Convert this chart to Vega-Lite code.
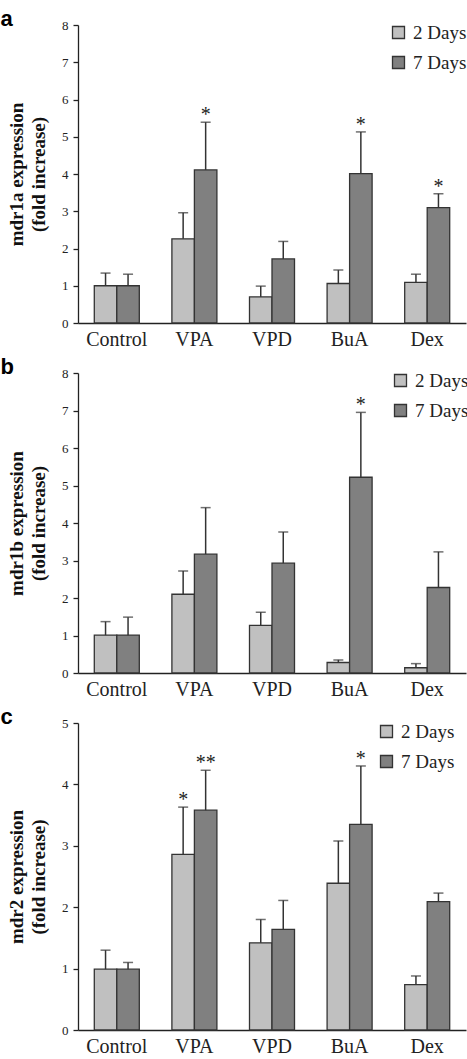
{
  "$schema": "https://vega.github.io/schema/vega-lite/v6.json",
  "padding": {"left": 0, "top": 8, "right": 0, "bottom": 0},
  "background": "white",
  "data": {"values": [
    {"panel": "a", "group": "Control", "day": "2 Days", "value": 1.0, "err": 1.34, "star": ""},
    {"panel": "a", "group": "Control", "day": "7 Days", "value": 1.0, "err": 1.31, "star": ""},
    {"panel": "a", "group": "VPA", "day": "2 Days", "value": 2.26, "err": 2.96, "star": ""},
    {"panel": "a", "group": "VPA", "day": "7 Days", "value": 4.11, "err": 5.39, "star": "*"},
    {"panel": "a", "group": "VPD", "day": "2 Days", "value": 0.70, "err": 0.99, "star": ""},
    {"panel": "a", "group": "VPD", "day": "7 Days", "value": 1.72, "err": 2.19, "star": ""},
    {"panel": "a", "group": "BuA", "day": "2 Days", "value": 1.06, "err": 1.42, "star": ""},
    {"panel": "a", "group": "BuA", "day": "7 Days", "value": 4.01, "err": 5.13, "star": "*"},
    {"panel": "a", "group": "Dex", "day": "2 Days", "value": 1.09, "err": 1.31, "star": ""},
    {"panel": "a", "group": "Dex", "day": "7 Days", "value": 3.10, "err": 3.47, "star": "*"},
    {"panel": "b", "group": "Control", "day": "2 Days", "value": 1.01, "err": 1.37, "star": ""},
    {"panel": "b", "group": "Control", "day": "7 Days", "value": 1.01, "err": 1.49, "star": ""},
    {"panel": "b", "group": "VPA", "day": "2 Days", "value": 2.10, "err": 2.72, "star": ""},
    {"panel": "b", "group": "VPA", "day": "7 Days", "value": 3.17, "err": 4.41, "star": ""},
    {"panel": "b", "group": "VPD", "day": "2 Days", "value": 1.27, "err": 1.62, "star": ""},
    {"panel": "b", "group": "VPD", "day": "7 Days", "value": 2.93, "err": 3.76, "star": ""},
    {"panel": "b", "group": "BuA", "day": "2 Days", "value": 0.28, "err": 0.35, "star": ""},
    {"panel": "b", "group": "BuA", "day": "7 Days", "value": 5.22, "err": 6.95, "star": "*"},
    {"panel": "b", "group": "Dex", "day": "2 Days", "value": 0.14, "err": 0.25, "star": ""},
    {"panel": "b", "group": "Dex", "day": "7 Days", "value": 2.28, "err": 3.23, "star": ""},
    {"panel": "c", "group": "Control", "day": "2 Days", "value": 0.99, "err": 1.30, "star": ""},
    {"panel": "c", "group": "Control", "day": "7 Days", "value": 0.99, "err": 1.10, "star": ""},
    {"panel": "c", "group": "VPA", "day": "2 Days", "value": 2.86, "err": 3.63, "star": "*"},
    {"panel": "c", "group": "VPA", "day": "7 Days", "value": 3.58, "err": 4.23, "star": "**"},
    {"panel": "c", "group": "VPD", "day": "2 Days", "value": 1.42, "err": 1.80, "star": ""},
    {"panel": "c", "group": "VPD", "day": "7 Days", "value": 1.64, "err": 2.11, "star": ""},
    {"panel": "c", "group": "BuA", "day": "2 Days", "value": 2.39, "err": 3.08, "star": ""},
    {"panel": "c", "group": "BuA", "day": "7 Days", "value": 3.35, "err": 4.30, "star": "*"},
    {"panel": "c", "group": "Dex", "day": "2 Days", "value": 0.74, "err": 0.88, "star": ""},
    {"panel": "c", "group": "Dex", "day": "7 Days", "value": 2.09, "err": 2.23, "star": ""}
  ]},
  "config": {
    "view": {"stroke": null},
    "font": "Liberation Serif",
    "concat": {"spacing": 50},
    "axis": {
      "domainColor": "#222",
      "domainWidth": 1.3,
      "tickColor": "#222",
      "tickWidth": 1.3,
      "grid": false,
      "labelFont": "Liberation Serif",
      "labelColor": "#222",
      "titleFont": "Liberation Serif",
      "titleColor": "#111"
    },
    "axisX": {"ticks": false, "labelFontSize": 20, "labelPadding": 6, "labelAngle": 0, "title": null},
    "axisY": {"tickSize": 5, "labelFontSize": 13, "labelPadding": 5, "titleFontSize": 19, "titleFontWeight": "bold", "titleLineHeight": 22, "titlePadding": 13, "format": "d"},
    "legend": {
      "orient": "none",
      "title": null,
      "symbolType": "square",
      "symbolSize": 144,
      "symbolStrokeColor": "#333",
      "symbolStrokeWidth": 1.3,
      "symbolOpacity": 1,
      "labelFont": "Liberation Serif",
      "labelFontSize": 19,
      "labelColor": "#222",
      "rowPadding": 10,
      "labelOffset": 5
    },
    "title": {"font": "Liberation Sans", "fontSize": 22, "fontWeight": "bold", "anchor": "start", "frame": "bounds", "color": "#000"}
  },
  "resolve": {"scale": {"y": "independent", "x": "independent"}, "legend": {"color": "independent"}},
  "bounds": "flush",
  "vconcat": [
    {
      "title": {"text": "a", "dx": -7, "dy": 2, "offset": -10},
      "width": 388,
      "height": 298,
      "transform": [{"filter": "datum.panel === 'a'"}],
      "encoding": {
        "x": {"field": "group", "type": "nominal", "sort": ["Control", "VPA", "VPD", "BuA", "Dex"], "scale": {"paddingInner": 0.42, "paddingOuter": 0.21}},
        "xOffset": {"field": "day", "type": "nominal", "sort": ["2 Days", "7 Days"]}
      },
      "layer": [
        {"mark": {"type": "bar", "stroke": "#333", "strokeWidth": 1.3}, "encoding": {
          "y": {"field": "value", "type": "quantitative", "scale": {"domain": [0, 8]}, "axis": {"values": [0,1,2,3,4,5,6,7,8], "title": ["mdr1a expression", "(fold increase)"]}},
          "color": {"field": "day", "type": "nominal", "scale": {"domain": ["2 Days", "7 Days"], "range": ["#c0c0c0", "#808080"]}, "legend": {"legendX": 311, "legendY": -2}}
        }},
        {"mark": {"type": "rule", "color": "#333", "strokeWidth": 1.5}, "encoding": {"y": {"field": "err", "type": "quantitative", "axis": {"values": [0,1,2,3,4,5,6,7,8], "title": ["mdr1a expression", "(fold increase)"]}}, "y2": {"field": "value"}}},
        {"mark": {"type": "tick", "color": "#333", "thickness": 1.5, "size": 10}, "encoding": {"y": {"field": "err", "type": "quantitative", "axis": {"values": [0,1,2,3,4,5,6,7,8], "title": ["mdr1a expression", "(fold increase)"]}}}},
        {"transform": [{"filter": "datum.star !== ''"}], "mark": {"type": "text", "fontSize": 20, "baseline": "alphabetic", "dy": -1, "color": "#222"}, "encoding": {"y": {"field": "err", "type": "quantitative", "axis": {"values": [0,1,2,3,4,5,6,7,8], "title": ["mdr1a expression", "(fold increase)"]}}, "text": {"field": "star"}}}
      ]
    },
    {
      "title": {"text": "b", "dx": -7, "dy": 2, "offset": -10},
      "width": 388,
      "height": 300,
      "transform": [{"filter": "datum.panel === 'b'"}],
      "encoding": {
        "x": {"field": "group", "type": "nominal", "sort": ["Control", "VPA", "VPD", "BuA", "Dex"], "scale": {"paddingInner": 0.42, "paddingOuter": 0.21}},
        "xOffset": {"field": "day", "type": "nominal", "sort": ["2 Days", "7 Days"]}
      },
      "layer": [
        {"mark": {"type": "bar", "stroke": "#333", "strokeWidth": 1.3}, "encoding": {
          "y": {"field": "value", "type": "quantitative", "scale": {"domain": [0, 8]}, "axis": {"values": [0,1,2,3,4,5,6,7,8], "title": ["mdr1b expression", "(fold increase)"]}},
          "color": {"field": "day", "type": "nominal", "scale": {"domain": ["2 Days", "7 Days"], "range": ["#c0c0c0", "#808080"]}, "legend": {"legendX": 313, "legendY": -2}}
        }},
        {"mark": {"type": "rule", "color": "#333", "strokeWidth": 1.5}, "encoding": {"y": {"field": "err", "type": "quantitative", "axis": {"values": [0,1,2,3,4,5,6,7,8], "title": ["mdr1b expression", "(fold increase)"]}}, "y2": {"field": "value"}}},
        {"mark": {"type": "tick", "color": "#333", "thickness": 1.5, "size": 10}, "encoding": {"y": {"field": "err", "type": "quantitative", "axis": {"values": [0,1,2,3,4,5,6,7,8], "title": ["mdr1b expression", "(fold increase)"]}}}},
        {"transform": [{"filter": "datum.star !== ''"}], "mark": {"type": "text", "fontSize": 20, "baseline": "alphabetic", "dy": -1, "color": "#222"}, "encoding": {"y": {"field": "err", "type": "quantitative", "axis": {"values": [0,1,2,3,4,5,6,7,8], "title": ["mdr1b expression", "(fold increase)"]}}, "text": {"field": "star"}}}
      ]
    },
    {
      "title": {"text": "c", "dx": -7, "dy": 2, "offset": -10},
      "width": 388,
      "height": 307,
      "transform": [{"filter": "datum.panel === 'c'"}],
      "encoding": {
        "x": {"field": "group", "type": "nominal", "sort": ["Control", "VPA", "VPD", "BuA", "Dex"], "scale": {"paddingInner": 0.42, "paddingOuter": 0.21}},
        "xOffset": {"field": "day", "type": "nominal", "sort": ["2 Days", "7 Days"]}
      },
      "layer": [
        {"mark": {"type": "bar", "stroke": "#333", "strokeWidth": 1.3}, "encoding": {
          "y": {"field": "value", "type": "quantitative", "scale": {"domain": [0, 5]}, "axis": {"values": [0,1,2,3,4,5], "title": ["mdr2 expression", "(fold increase)"]}},
          "color": {"field": "day", "type": "nominal", "scale": {"domain": ["2 Days", "7 Days"], "range": ["#c0c0c0", "#808080"]}, "legend": {"legendX": 299, "legendY": -1}}
        }},
        {"mark": {"type": "rule", "color": "#333", "strokeWidth": 1.5}, "encoding": {"y": {"field": "err", "type": "quantitative", "axis": {"values": [0,1,2,3,4,5], "title": ["mdr2 expression", "(fold increase)"]}}, "y2": {"field": "value"}}},
        {"mark": {"type": "tick", "color": "#333", "thickness": 1.5, "size": 10}, "encoding": {"y": {"field": "err", "type": "quantitative", "axis": {"values": [0,1,2,3,4,5], "title": ["mdr2 expression", "(fold increase)"]}}}},
        {"transform": [{"filter": "datum.star !== ''"}], "mark": {"type": "text", "fontSize": 20, "baseline": "alphabetic", "dy": -1, "color": "#222"}, "encoding": {"y": {"field": "err", "type": "quantitative", "axis": {"values": [0,1,2,3,4,5], "title": ["mdr2 expression", "(fold increase)"]}}, "text": {"field": "star"}}}
      ]
    }
  ]
}
